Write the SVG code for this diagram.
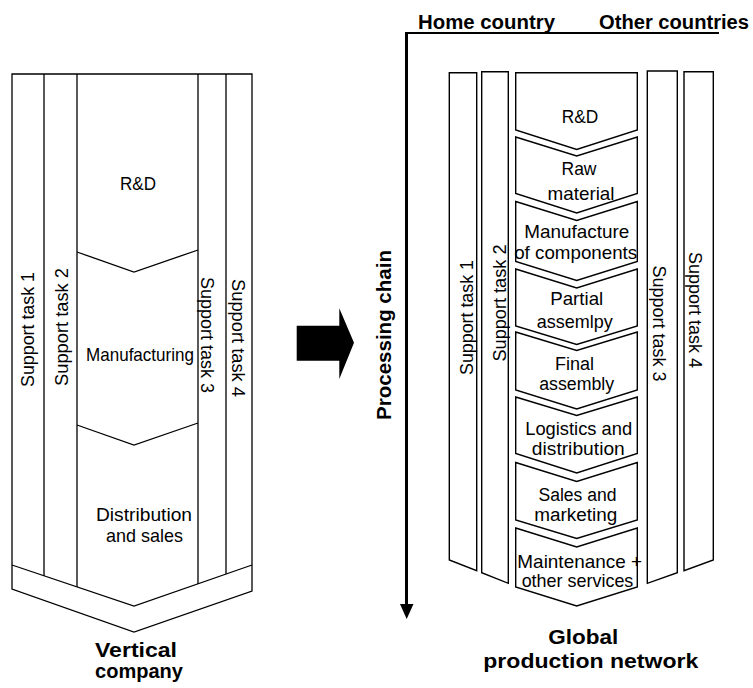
<svg xmlns="http://www.w3.org/2000/svg" width="753" height="688" viewBox="0 0 753 688">
  <style>
    .ln { fill: none; stroke: #000; stroke-width: 1.3; stroke-linejoin: miter; }
    .bx { fill: #fff; stroke: #000; stroke-width: 1.4; stroke-linejoin: miter; }
    .t { font-family: "Liberation Sans", Arial, sans-serif; font-size: 19px; text-anchor: middle; fill: #000; }
    .s { font-size: 18px; }
    .b { font-family: "Liberation Sans", Arial, sans-serif; font-weight: bold; font-size: 21px; text-anchor: middle; fill: #000; }
    .h { font-family: "Liberation Sans", Arial, sans-serif; font-weight: bold; font-size: 20px; fill: #000; }
  </style>
  <rect width="753" height="688" fill="#fff"/>

  <!-- Vertical company: one block with support columns and process stages -->
  <g id="vertical-company">
    <path class="ln" d="M12,74 H252 V591 L134,632 L12,589 Z"/>
    <path class="ln" d="M12,565 L134,606 L252,565"/>
    <path class="ln" d="M44,74 V576 M77,74 V587 M198,74 V584 M226,74 V574"/>
    <path class="ln" d="M77,252 L134,272 L198,250"/>
    <path class="ln" d="M77,425 L134,445 L198,423"/>
  </g>
  <g id="vc-support-1"><text class="t" transform="translate(34,329.5) rotate(-90)" textLength="115" lengthAdjust="spacingAndGlyphs">Support task 1</text></g>
  <g id="vc-support-2"><text class="t" transform="translate(68,327) rotate(-90)" textLength="118" lengthAdjust="spacingAndGlyphs">Support task 2</text></g>
  <g id="vc-support-3"><text class="t" transform="translate(200.5,335) rotate(90)" textLength="116" lengthAdjust="spacingAndGlyphs">Support task 3</text></g>
  <g id="vc-support-4"><text class="t" transform="translate(231.5,338) rotate(90)" textLength="118" lengthAdjust="spacingAndGlyphs">Support task 4</text></g>
  <g id="vc-rd"><text class="t" x="138" y="190" textLength="36" lengthAdjust="spacingAndGlyphs">R&amp;D</text></g>
  <g id="vc-manufacturing"><text class="t" x="140" y="360.5" textLength="108" lengthAdjust="spacingAndGlyphs">Manufacturing</text></g>
  <g id="vc-distribution">
    <text class="t" x="144" y="520.5" textLength="96" lengthAdjust="spacingAndGlyphs">Distribution</text>
    <text class="t" x="144.5" y="542" textLength="77" lengthAdjust="spacingAndGlyphs">and sales</text>
  </g>
  <g id="vc-title">
    <text class="b" x="136" y="656.5" textLength="82" lengthAdjust="spacingAndGlyphs">Vertical</text>
    <text class="b" x="139" y="678" textLength="88" lengthAdjust="spacingAndGlyphs">company</text>
  </g>

  <!-- Global production network: support columns -->
  <g id="gpn-support-1">
    <path class="bx" d="M449.3,72.7 H476.7 V570.7 L449.3,560 Z"/>
    <text class="t" transform="translate(472.5,317.5) rotate(-90)" textLength="115" lengthAdjust="spacingAndGlyphs">Support task 1</text>
  </g>
  <g id="gpn-support-2">
    <path class="bx" d="M481.7,71.7 H508.3 V583.3 L481.7,572.7 Z"/>
    <text class="t" transform="translate(506,303) rotate(-90)" textLength="117" lengthAdjust="spacingAndGlyphs">Support task 2</text>
  </g>
  <g id="gpn-support-3">
    <path class="bx" d="M647.3,71 H677.3 V572.7 L647.3,583.3 Z"/>
    <text class="t" transform="translate(653,323.5) rotate(90)" textLength="116" lengthAdjust="spacingAndGlyphs">Support task 3</text>
  </g>
  <g id="gpn-support-4">
    <path class="bx" d="M684,71.7 H713.3 V560 L684,570.7 Z"/>
    <text class="t" transform="translate(688.5,310) rotate(90)" textLength="116" lengthAdjust="spacingAndGlyphs">Support task 4</text>
  </g>

  <!-- Global production network: processing stages -->
  <g id="gpn-rd">
    <path class="bx" d="M515.7,72.7 H637.3 V130 L576.7,149.5 L515.7,130 Z"/>
    <text class="t" x="580" y="122.7" textLength="36.6" lengthAdjust="spacingAndGlyphs">R&amp;D</text>
  </g>
  <g id="gpn-raw">
    <path class="bx" d="M515.7,137 L576.7,156 L637.3,137 V193.5 L576.7,213 L515.7,193.5 Z"/>
    <text class="t" x="579" y="175" textLength="35" lengthAdjust="spacingAndGlyphs">Raw</text>
    <text class="t" x="581" y="200" textLength="67" lengthAdjust="spacingAndGlyphs">material</text>
  </g>
  <g id="gpn-components">
    <path class="bx" d="M515.7,201.5 L576.7,220.5 L637.3,201.5 V261.5 L576.7,280.5 L515.7,261.5 Z"/>
    <text class="t" x="576.7" y="238.3" textLength="105" lengthAdjust="spacingAndGlyphs">Manufacture</text>
    <text class="t" x="575.7" y="259.3" textLength="123" lengthAdjust="spacingAndGlyphs">of components</text>
  </g>
  <g id="gpn-partial">
    <path class="bx" d="M515.7,269 L576.7,288 L637.3,269 V326 L576.7,344.5 L515.7,326 Z"/>
    <text class="t" x="576.7" y="305" textLength="53" lengthAdjust="spacingAndGlyphs">Partial</text>
    <text class="t" x="574.7" y="328.3" textLength="76" lengthAdjust="spacingAndGlyphs">assemlpy</text>
  </g>
  <g id="gpn-final">
    <path class="bx" d="M515.7,332 L576.7,350.5 L637.3,332 V390 L576.7,409 L515.7,390 Z"/>
    <text class="t s" x="574.5" y="370" textLength="39" lengthAdjust="spacingAndGlyphs">Final</text>
    <text class="t s" x="576.7" y="390" textLength="75" lengthAdjust="spacingAndGlyphs">assembly</text>
  </g>
  <g id="gpn-logistics">
    <path class="bx" d="M515.7,397 L576.7,415.5 L637.3,397 V453.5 L576.7,473 L515.7,453.5 Z"/>
    <text class="t" x="578.7" y="435" textLength="107" lengthAdjust="spacingAndGlyphs">Logistics and</text>
    <text class="t" x="578.3" y="455" textLength="93" lengthAdjust="spacingAndGlyphs">distribution</text>
  </g>
  <g id="gpn-sales">
    <path class="bx" d="M515.7,462.5 L576.7,481.5 L637.3,462.5 V520 L576.7,538.5 L515.7,520 Z"/>
    <text class="t s" x="577.5" y="501" textLength="78" lengthAdjust="spacingAndGlyphs">Sales and</text>
    <text class="t s" x="575.8" y="520.5" textLength="83" lengthAdjust="spacingAndGlyphs">marketing</text>
  </g>
  <g id="gpn-maintenance">
    <path class="bx" d="M515.7,528 L576.7,547 L637.3,528 V587 L576.7,606 L515.7,587 Z"/>
    <text class="t" x="579.7" y="568.3" textLength="124.7" lengthAdjust="spacingAndGlyphs">Maintenance +</text>
    <text class="t" x="577.5" y="587.3" textLength="111.7" lengthAdjust="spacingAndGlyphs">other services</text>
  </g>
  <g id="gpn-title">
    <text class="b" x="583.3" y="644" textLength="70" lengthAdjust="spacingAndGlyphs">Global</text>
    <text class="b" x="590.8" y="668.3" textLength="215" lengthAdjust="spacingAndGlyphs">production network</text>
  </g>

  <!-- Axes: countries across the top, processing chain downwards -->
  <g id="axis-labels">
    <text class="h" x="418" y="29.3" textLength="137" lengthAdjust="spacingAndGlyphs">Home country</text>
    <text class="h" x="599" y="29.3" textLength="150" lengthAdjust="spacingAndGlyphs">Other countries</text>
    <text class="h" text-anchor="middle" transform="translate(390.5,335) rotate(-90)" textLength="170" lengthAdjust="spacingAndGlyphs">Processing chain</text>
  </g>

  <g id="connectors">
    <polygon fill="#000" points="296.7,325.7 339.3,325.7 339.3,308.3 354,342.7 339.3,379 339.3,360.7 296.7,360.7"/>
    <line x1="405" y1="33" x2="719" y2="33" stroke="#000" stroke-width="2"/>
    <line x1="406.5" y1="32" x2="406.5" y2="606" stroke="#000" stroke-width="3"/>
    <polygon fill="#000" points="400,604 413.5,604 406.7,619"/>
  </g>
</svg>
